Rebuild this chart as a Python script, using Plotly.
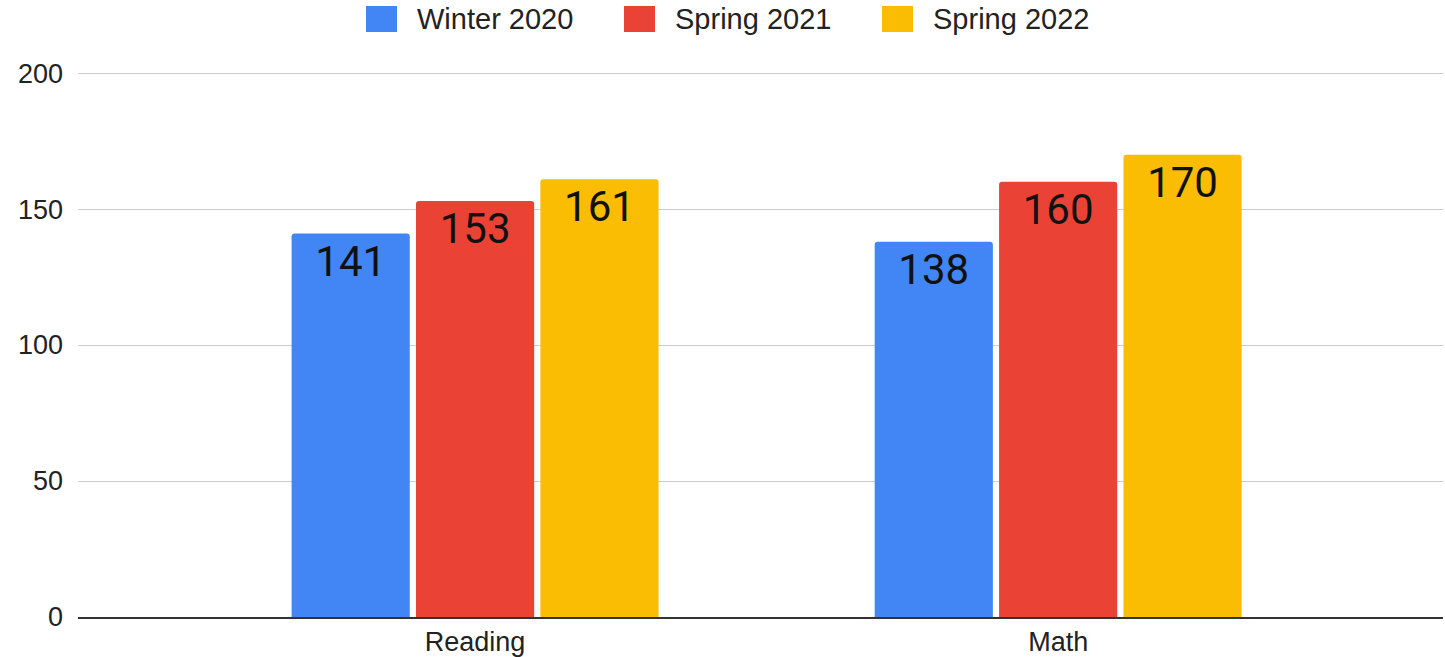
import plotly.graph_objects as go

categories = ["Reading", "Math"]
series_names = ["Winter 2020", "Spring 2021", "Spring 2022"]
winter_2020 = [141, 138]
spring_2021 = [153, 160]
spring_2022 = [161, 170]
colors = ["#4285F4", "#EA4335", "#FBBC04"]
y_ticks = [0, 50, 100, 150, 200]

W, H = 1445, 657
L, R, T, B = 78, 2, 72, 40
pw, ph = W - L - R, H - T - B

def px_x(px):
    return (px - L) / pw

def px_y(py):
    return (H - B - py) / ph

fig = go.Figure()
for name, vals, col in zip(series_names, [winter_2020, spring_2021, spring_2022], colors):
    fig.add_trace(go.Bar(
        x=categories, y=vals, name=name, showlegend=False,
        marker=dict(color=col, cornerradius=3, line=dict(width=0)),
        text=[str(v) for v in vals],
        textposition="inside", insidetextanchor="end",
        textfont=dict(family="Roboto", size=42, color="#111111"),
        constraintext="none",
    ))

# legend (drawn as swatches + labels above the plot)
legend_swatch_px = [366, 624, 882]
for name, col, sx in zip(series_names, colors, legend_swatch_px):
    fig.add_shape(type="rect", xref="paper", yref="paper",
                  x0=px_x(sx), x1=px_x(sx + 31), y0=px_y(32), y1=px_y(6),
                  fillcolor=col, line=dict(width=0), layer="above")
    fig.add_annotation(xref="paper", yref="paper", x=px_x(sx + 49), y=px_y(19),
                       xanchor="left", yanchor="middle", showarrow=False,
                       text=name, font=dict(family="Liberation Sans, Arial", size=29, color="#222222"))

fig.update_layout(
    width=W, height=H,
    margin=dict(l=L, r=R, t=T, b=B, autoexpand=False),
    paper_bgcolor="white", plot_bgcolor="white",
    barmode="group", bargap=0.36, bargroupgap=0.05,
    font=dict(family="Liberation Sans, Arial", size=27, color="#222222"),
    showlegend=False,
)
fig.update_xaxes(range=[-0.681, 1.66], showgrid=False, showline=True, linecolor="#333333",
                 linewidth=1.5, ticks="", tickfont=dict(size=27), automargin=False)
fig.update_yaxes(range=[0, 200.4], tickvals=y_ticks, showgrid=True, gridcolor="#cccccc",
                 gridwidth=1, zeroline=False, showline=False, ticks="", ticklabelstandoff=14,
                 tickfont=dict(size=27), automargin=False)

fig.write_html("out.html", config={"displayModeBar": False},
               post_script="document.body.style.margin='0';")
